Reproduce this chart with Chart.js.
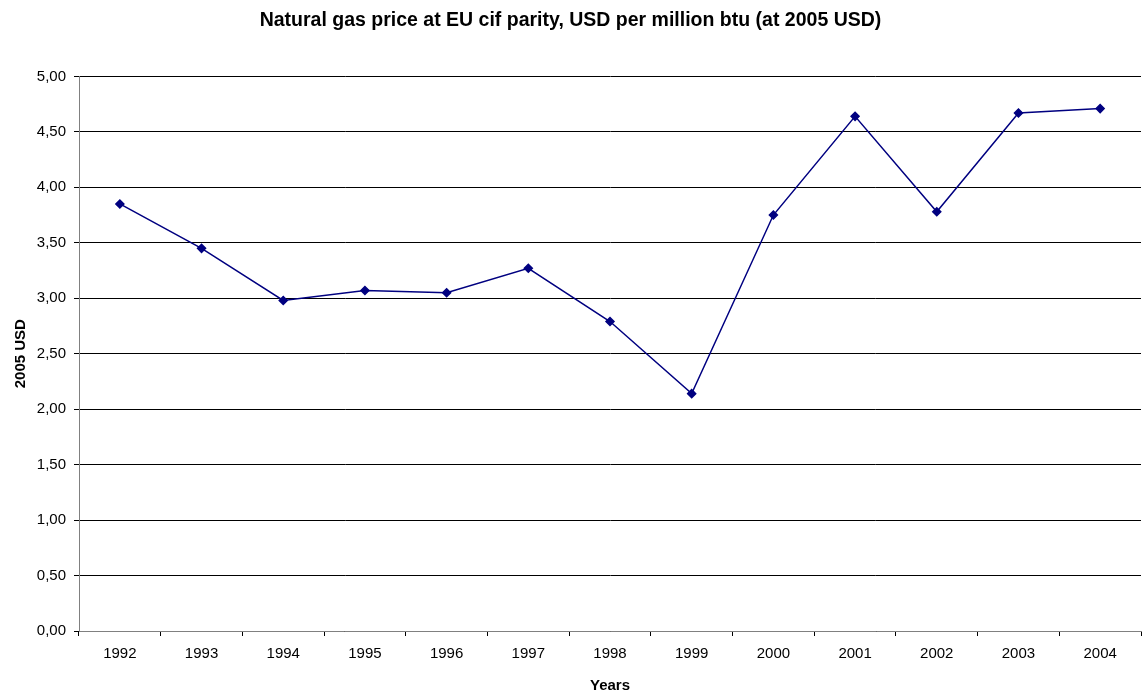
<!DOCTYPE html>
<html>
<head>
<meta charset="utf-8">
<script src="https://cdn.jsdelivr.net/npm/chart.js@4.4.1/dist/chart.umd.min.js"></script>
<style>
  body { margin: 0; background: #fff; }
  #wrap { width: 1142px; height: 693px; }
</style>
</head>
<body>
<div id="wrap"><canvas id="gasPrice" width="1142" height="693"></canvas></div>
<script>
// values
const years = ['1992', '1993', '1994', '1995', '1996', '1997', '1998', '1999', '2000', '2001', '2002', '2003', '2004'];
const prices = [3.85, 3.45, 2.98, 3.07, 3.05, 3.27, 2.79, 2.14, 3.75, 4.64, 3.78, 4.67, 4.71];

const font = 'Arial, "Liberation Sans", sans-serif';

var ctx = document.getElementById('gasPrice').getContext('2d');

var gasChart = new Chart(ctx, {
    type: 'line',
    data: {
        labels: years,
        datasets: [{
            data: prices,
            borderColor: '#000080',
            backgroundColor: '#000080',
            borderWidth: 1.5,
            pointStyle: 'rectRot',
            pointRadius: 4,
            pointHoverRadius: 4,
            tension: 0
        }]
    },
    options: {
        responsive: false,
        animation: false,
        layout: { autoPadding: false, padding: { left: 0, right: 1, top: 0, bottom: 0 } },
        plugins: {
            legend: { display: false },
            tooltip: { enabled: false },
            title: {
                display: true,
                text: 'Natural gas price at EU cif parity, USD per million btu (at 2005 USD)',
                color: '#000',
                font: { family: font, size: 19.5, weight: 'bold' },
                padding: { top: 9, bottom: 44 }
            }
        },
        scales: {
            x: {
                offset: true,
                grid: { offset: true, drawOnChartArea: false, tickLength: 5, color: '#000' },
                border: { color: '#808080' },
                ticks: { color: '#000', font: { family: font, size: 15 }, padding: 9, maxRotation: 0 },
                title: {
                    display: true, text: 'Years', color: '#000',
                    font: { family: font, size: 15, weight: 'bold', lineHeight: 1 },
                    padding: { top: 4, bottom: 0 }
                },
                afterFit: s => { s.height = 62; }
            },
            y: {
                min: 0,
                max: 5,
                ticks: {
                    stepSize: 0.5,
                    color: '#000',
                    font: { family: font, size: 15 },
                    padding: 8,
                    callback: v => v.toFixed(2).replace('.', ',')
                },
                grid: { color: '#000', tickLength: 5 },
                border: { color: '#808080' },
                title: {
                    display: true, text: '2005 USD', color: '#000',
                    font: { family: font, size: 15, weight: 'bold' },
                    padding: { top: 12, bottom: 4 }
                },
                afterFit: s => { s.width = 79; }
            }
        }
    }
});
</script>
</body>
</html>
